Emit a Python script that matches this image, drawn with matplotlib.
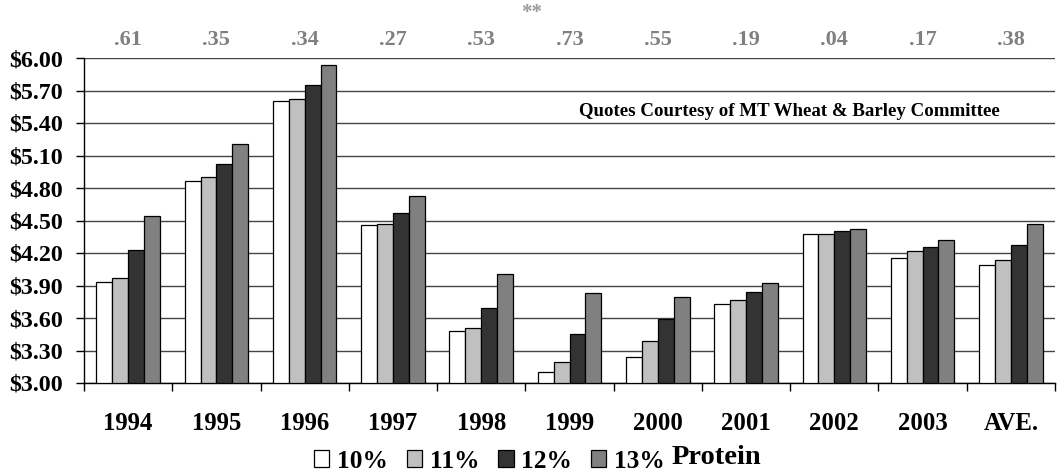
import matplotlib
matplotlib.use("Agg")
import matplotlib.pyplot as plt
import matplotlib.transforms as mtransforms
from matplotlib.patches import Rectangle
import numpy as np

categories = ["1994", "1995", "1996", "1997", "1998", "1999", "2000", "2001", "2002", "2003", "AVE."]
p10 = [3.93, 4.86, 5.60, 4.46, 3.48, 3.10, 3.24, 3.73, 4.38, 4.15, 4.09]
p11 = [3.97, 4.90, 5.62, 4.47, 3.51, 3.19, 3.39, 3.77, 4.38, 4.22, 4.14]
p12 = [4.23, 5.02, 5.75, 4.57, 3.69, 3.45, 3.59, 3.84, 4.40, 4.26, 4.27]
p13 = [4.54, 5.21, 5.94, 4.73, 4.01, 3.83, 3.79, 3.92, 4.42, 4.32, 4.47]
spread_labels = [".61", ".35", ".34", ".27", ".53", ".73", ".55", ".19", ".04", ".17", ".38"]
series_labels = ["10%", "11%", "12%", "13%"]
colors = ["#ffffff", "#c0c0c0", "#333333", "#808080"]
yticks = [3.00, 3.30, 3.60, 3.90, 4.20, 4.50, 4.80, 5.10, 5.40, 5.70, 6.00]

plt.rcParams['font.family'] = ['Liberation Serif', 'DejaVu Serif']
plt.rcParams['font.weight'] = 'bold'

W, H = 1058, 476
fig = plt.figure(figsize=(W / 100, H / 100), dpi=100)
ax = fig.add_axes([84 / W, (H - 383) / H, (1055 - 84) / W, (383 - 58) / H])

x = np.arange(len(categories))
bw = 0.18
series = [p10, p11, p12, p13]
for i, (vals, c) in enumerate(zip(series, colors)):
    ax.bar(x + (i - 1.5) * bw, np.array(vals) - 3.0, bottom=3.0, width=bw,
           color=c, edgecolor="black", linewidth=0.9, zorder=3)

ax.set_xlim(-0.5, len(categories) - 0.5)
ax.set_ylim(3.0, 6.0)
ax.set_yticks(yticks)
ax.set_yticklabels(["$%.2f" % v for v in yticks])
ax.yaxis.grid(True, color="#444444", linewidth=1.0, zorder=0)
ax.set_axisbelow(True)

ax.set_xticks(x)
ax.set_xticklabels(categories)
ax.set_xticks(np.arange(-0.5, len(categories)), minor=True)
ax.tick_params(axis='x', which='major', length=0, pad=21, labelsize=17.8)
ax.tick_params(axis='x', which='minor', length=6, width=1, direction='out', color='black')
ax.tick_params(axis='y', which='major', length=6, width=1, direction='out', pad=9, labelsize=17.3)
for lab in ax.get_xticklabels() + ax.get_yticklabels():
    lab.set_fontweight('bold')

for s in ["top", "right"]:
    ax.spines[s].set_visible(False)
ax.spines["left"].set_linewidth(1.0)
ax.spines["bottom"].set_linewidth(1.0)

trans = mtransforms.blended_transform_factory(ax.transData, ax.transAxes)
for xi, lab in zip(x, spread_labels):
    ax.text(xi, 1.055, lab, transform=trans, ha='center', va='center',
            fontsize=16, fontweight='bold', color='#808080')
ax.text(4.57, 1.14, "**", transform=trans, ha='center', va='center',
        fontsize=15, fontweight='bold', color='#999999')

ax.text(7.49, 0.835, "Quotes Courtesy of MT Wheat & Barley Committee", transform=trans,
        ha='center', va='center', fontsize=13.6, fontweight='bold', color='black')

leg_handles = [Rectangle((0, 0), 1, 1, facecolor=c, edgecolor='black', linewidth=0.9) for c in colors]
leg = fig.legend(leg_handles, series_labels, loc='center left',
                 bbox_to_anchor=(314 / W, (H - 461) / H), ncol=4, frameon=False,
                 prop={'family': 'Liberation Serif', 'weight': 'bold', 'size': 18.3},
                 handlelength=0.6, handleheight=0.6, handletextpad=0.3, columnspacing=0.75,
                 borderpad=0, borderaxespad=0)
fig.canvas.draw()
bb = leg.get_window_extent()
fig.text((bb.x1 + 7) / W, (H - 457) / H, "Protein", ha='left', va='center',
         fontsize=20.5, fontweight='bold')

fig.savefig("out.png", dpi=100)
